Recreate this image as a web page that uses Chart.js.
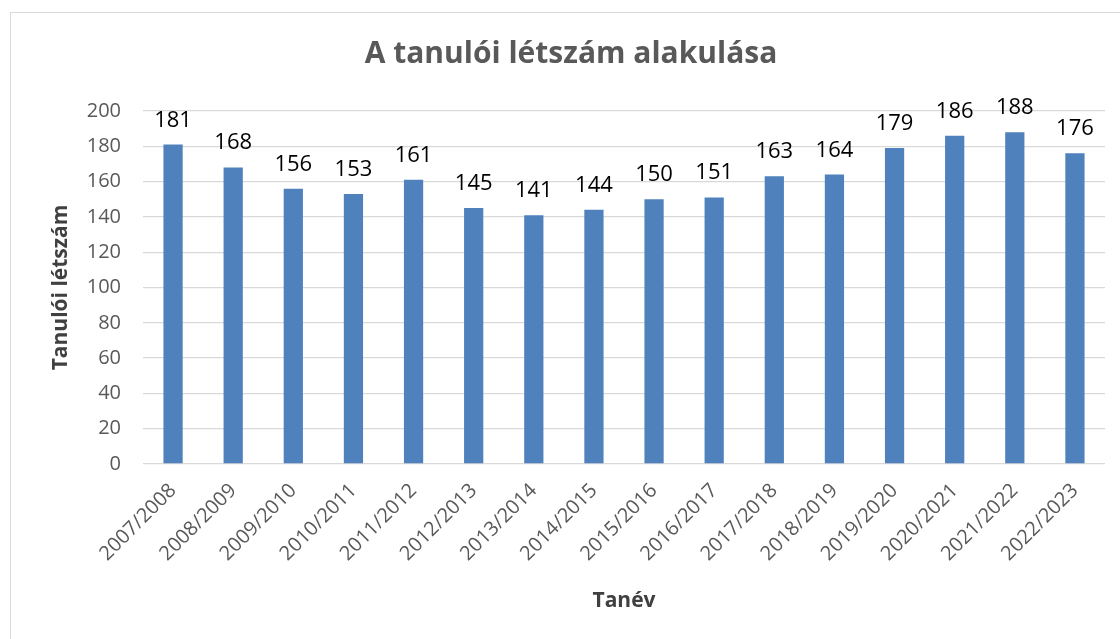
<!DOCTYPE html>
<html>
<head>
<meta charset="utf-8">
<script src="https://cdn.jsdelivr.net/npm/chart.js@4"></script>
<style>
  html, body { margin: 0; padding: 0; background: #fff; overflow: hidden; }
  #frame { position: absolute; left: 10px; top: 12px; width: 1200px; height: 700px; border: 1.5px solid #d9d9d9; }
  #wrap { position: absolute; left: 0; top: 0; width: 1120px; height: 639px; }
</style>
</head>
<body>
<div id="frame"></div>
<div id="wrap"><canvas id="chart"></canvas></div>
<script>
const schoolYears = ["2007/2008", "2008/2009", "2009/2010", "2010/2011", "2011/2012", "2012/2013",
  "2013/2014", "2014/2015", "2015/2016", "2016/2017", "2017/2018", "2018/2019",
  "2019/2020", "2020/2021", "2021/2022", "2022/2023"];
const studentCounts = [181, 168, 156, 153, 161, 145, 141, 144, 150, 151, 163, 164, 179, 186, 188, 176];
const yTicks = [0, 20, 40, 60, 80, 100, 120, 140, 160, 180, 200];

const fontFamily = "'Open Sans', sans-serif";

// values above the bars, like Excel's "outside end" labels
const barLabels = {
  id: 'barLabels',
  afterDatasetsDraw(chart) {
    const ctx = chart.ctx;
    const meta = chart.getDatasetMeta(0);
    ctx.save();
    ctx.font = "22px " + fontFamily;
    ctx.fillStyle = "#000";
    ctx.textAlign = "center";
    ctx.textBaseline = "alphabetic";
    meta.data.forEach((bar, i) => {
      ctx.fillText(chart.data.datasets[0].data[i], bar.x, bar.y - 18);
    });
    ctx.restore();
  }
};

new Chart(document.getElementById('chart'), {
  type: 'bar',
  data: {
    labels: schoolYears,
    datasets: [{
      label: 'Tanulói létszám',
      data: studentCounts,
      backgroundColor: '#4f81bd',
      barPercentage: 0.32,
      categoryPercentage: 1
    }]
  },
  options: {
    responsive: true,
    maintainAspectRatio: false,
    animation: false,
    // left padding only shifts the title a bit right, the y axis width makes up for it
    layout: { padding: { left: 37, right: 15, top: 0, bottom: 0 } },
    plugins: {
      legend: { display: false },
      tooltip: { enabled: false },
      title: {
        display: true,
        text: 'A tanulói létszám alakulása',
        color: '#595959',
        font: { family: fontFamily, size: 30, weight: 'bold' },
        padding: { top: 36, bottom: 39 }
      }
    },
    scales: {
      x: {
        grid: { display: false },
        border: { display: false },
        ticks: {
          color: '#595959',
          font: { family: fontFamily, size: 20 },
          minRotation: 45,
          maxRotation: 45,
          padding: 7
        },
        title: {
          display: true,
          text: 'Tanév',
          color: '#404040',
          font: { family: fontFamily, size: 21, weight: 'bold' },
          padding: { top: 0, bottom: 25 }
        },
        afterFit: s => { s.height = 175; }
      },
      y: {
        min: 0,
        max: 200,
        afterBuildTicks: s => { s.ticks = yTicks.map(v => ({ value: v })); },
        grid: { color: '#d9d9d9', lineWidth: 1.3, drawTicks: false },
        border: { display: false },
        ticks: {
          color: '#595959',
          font: { family: fontFamily, size: 20 },
          padding: 22
        },
        title: {
          display: true,
          text: 'Tanulói létszám',
          color: '#404040',
          font: { family: fontFamily, size: 21, weight: 'bold' },
          padding: { top: 11, bottom: 0 }
        },
        afterFit: s => { s.width = 106; }
      }
    }
  },
  plugins: [barLabels]
});
</script>
</body>
</html>
